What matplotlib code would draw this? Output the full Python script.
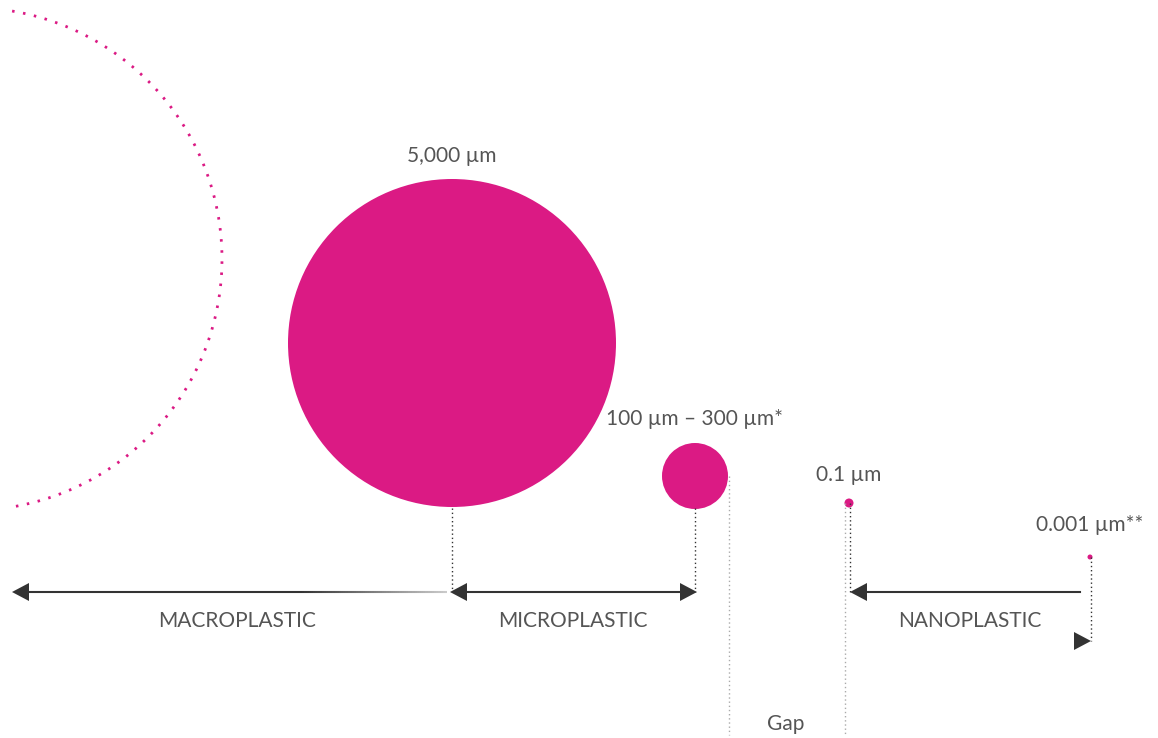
import numpy as np
import matplotlib.pyplot as plt
from matplotlib.patches import Circle, Polygon
from matplotlib.collections import LineCollection

plt.rcParams['font.family'] = ['Lato', 'DejaVu Sans']

PINK = '#db1a84'
DARK = '#333333'
TEXT = '#555555'

# particles: label, centre x, centre y, radius (pixel units of the diagram)
size_labels = ['5,000 µm', '100 µm – 300 µm*', '0.1 µm', '0.001 µm**']
cx = [452, 695, 849, 1090]
cy = [343, 476, 503, 557]
radius = [164, 33, 4.5, 2.5]
label_y = [156, 419, 475, 525]

# category ranges along the arrow row
categories = ['MACROPLASTIC', 'MICROPLASTIC', 'NANOPLASTIC']
cat_from = [447, 450, 1080]
cat_to = [12, 697, 850]
cat_label_x = [237, 573, 970]

fig = plt.figure(figsize=(11.58, 7.38), dpi=100)
ax = fig.add_axes([0, 0, 1, 1])
ax.set_xlim(0, 1158)
ax.set_ylim(738, 0)
ax.axis('off')

# dotted outline of macro particle
arc_c, arc_r = (-29.4, 259), 251.4
t = np.linspace(-80.5, 80.5, 400)
ax.plot(arc_c[0] + arc_r * np.cos(np.radians(t)), arc_c[1] + arc_r * np.sin(np.radians(t)),
        color=PINK, lw=2.0, ls=(0, (0.9, 3.1)), solid_capstyle='butt')

for lab, x, y, r, ly in zip(size_labels, cx, cy, radius, label_y):
    ax.add_patch(Circle((x, y), r, color=PINK, lw=0))
    ax.text(x, ly, lab, ha='center', va='center', fontsize=15, color=TEXT)

arrow_y = 592
# dark dotted drop lines
drops = [(452, 508, arrow_y), (695, 508, arrow_y), (850, 503, arrow_y), (1091, 557, 641)]
for x, y0, y1 in drops:
    ax.plot([x, x], [y0, y1], color=DARK, lw=1, ls=(0, (1, 2)))
# gray dotted gap lines
for x, y0 in [(729, 476), (845, 503)]:
    ax.plot([x, x], [y0, 735], color='#aaaaaa', lw=1, ls=(0, (1, 2)))


def head(x_tip, y, direction):
    L, H = 17, 9
    ax.add_patch(Polygon([(x_tip, y), (x_tip - direction * L, y - H), (x_tip - direction * L, y + H)],
                         closed=True, color=DARK, lw=0))


# macro arrow with fading line
xs = np.linspace(cat_to[0] + 5, cat_from[0], 200)
segs = [[(xs[i], arrow_y), (xs[i + 1], arrow_y)] for i in range(len(xs) - 1)]
fade = np.clip((xs[:-1] - 300) / (cat_from[0] - 300), 0, 1)
cols = [(0.2 + 0.6 * f, 0.2 + 0.6 * f, 0.2 + 0.6 * f) for f in fade]
ax.add_collection(LineCollection(segs, colors=cols, lw=1.5))
head(cat_to[0], arrow_y, -1)

# micro double arrow
ax.plot([cat_from[1] + 5, cat_to[1] - 5], [arrow_y, arrow_y], color=DARK, lw=1.5)
head(cat_from[1], arrow_y, -1)
head(cat_to[1], arrow_y, 1)

# nano arrow
ax.plot([cat_from[2], cat_to[2] + 5], [arrow_y, arrow_y], color=DARK, lw=1.5)
head(cat_to[2], arrow_y, -1)
head(1091, 641, 1)

for lab, x in zip(categories, cat_label_x):
    ax.text(x, 621, lab, ha='center', va='center', fontsize=15, color=TEXT)
ax.text(786, 724, 'Gap', ha='center', va='center', fontsize=15, color=TEXT)

fig.savefig('out.png', dpi=100, facecolor='white')
